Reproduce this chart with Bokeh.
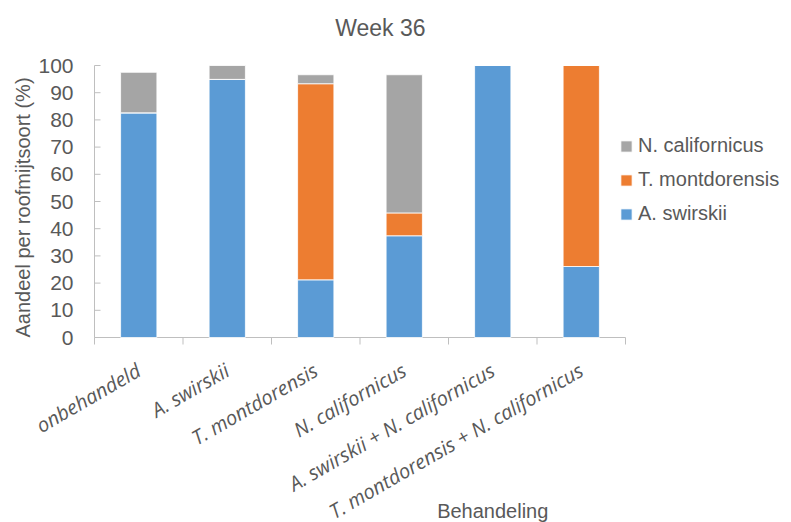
import numpy as np
from bokeh.plotting import figure
from bokeh.models import ColumnDataSource, Legend, LegendItem, Range1d
from bokeh.core.properties import value
from bokeh.embed import file_html
from bokeh.resources import INLINE

# Treatments (x categories)
categories = [
    "onbehandeld",
    "A. swirskii",
    "T. montdorensis",
    "N. californicus",
    "A. swirskii + N. californicus",
    "T. montdorensis + N. californicus",
]

# Share per predatory mite species (%), week 36
a_swirskii = [82.6, 94.9, 21.2, 37.4, 100.0, 26.1]
t_montdorensis = [0.0, 0.0, 72.1, 8.4, 0.0, 73.9]
n_californicus = [14.9, 5.1, 3.3, 50.8, 0.0, 0.0]

series_names = ["A. swirskii", "T. montdorensis", "N. californicus"]
series_keys = ["a_swirskii", "t_montdorensis", "n_californicus"]
series_colors = ["#5B9BD5", "#ED7D31", "#A5A5A5"]

y_ticks = [0, 10, 20, 30, 40, 50, 60, 70, 80, 90, 100]
y_tick_labels = [str(t) for t in y_ticks]

title_text = "Week 36"
x_title = "Behandeling"
y_title = "Aandeel per roofmijtsoort (%)"

TEXT = "#595959"
AXIS = "#BFBFBF"
SANS = "Liberation Sans"

# Canvas layout (pixels)
W, H = 791, 522
LEFT = 94            # pixel column of the value axis
ZERO_Y = 337         # pixel row of y = 0
PX_PER_Y = 2.72      # pixels per percent
PX_PER_CAT = 88.5    # pixels per treatment

n = len(categories)
centers = [i + 0.5 for i in range(n)]
bounds = [float(i) for i in range(n + 1)]

source = ColumnDataSource(dict(
    x=centers,
    a_swirskii=a_swirskii,
    t_montdorensis=t_montdorensis,
    n_californicus=n_californicus,
))

# The plotting frame covers the whole canvas; both axes are drawn in it.
p = figure(width=W, height=H, output_backend="svg", toolbar_location=None,
           x_range=Range1d(-LEFT / PX_PER_CAT, (W - LEFT) / PX_PER_CAT),
           y_range=Range1d(-(H - ZERO_Y) / PX_PER_Y, ZERO_Y / PX_PER_Y),
           min_border_left=0, min_border_right=0,
           min_border_top=0, min_border_bottom=0)
p.outline_line_color = None
p.grid.visible = False
p.axis.visible = False
p.background_fill_color = "white"
p.border_fill_color = "white"

tick_len_x = 6 / PX_PER_CAT
tick_len_y = 7 / PX_PER_Y

# Value axis: line, inward ticks, labels and title
p.segment(x0=[0], y0=[0], x1=[0], y1=[100], line_color=AXIS, line_width=1)
p.segment(x0=[0] * len(y_ticks), y0=y_ticks, x1=[tick_len_x] * len(y_ticks),
          y1=y_ticks, line_color=AXIS, line_width=1)
p.text(x=[0] * len(y_ticks), y=y_ticks, text=y_tick_labels, x_offset=-21,
       text_align="right", text_baseline="middle",
       text_font=value(SANS), text_font_size="21px", text_color=TEXT)
p.text(x=[0], y=[50], text=[y_title], angle=np.pi / 2, x_offset=-72,
       y_offset=6, text_align="center", text_baseline="middle",
       text_font=value(SANS), text_font_size="20px", text_color=TEXT)

# Category axis: baseline, boundary ticks, slanted labels and title
p.segment(x0=[0], y0=[0], x1=[n], y1=[0], line_color=AXIS, line_width=1)
p.segment(x0=bounds, y0=[0] * len(bounds), x1=bounds,
          y1=[-tick_len_y] * len(bounds), line_color=AXIS, line_width=1)
p.text(x=centers, y=[0] * n, text=categories, angle=np.pi / 6,
       y_offset=31, text_align="right", text_baseline="middle",
       text_font=value("Open Sans"), text_font_style="italic",
       text_font_size="20px", text_color=TEXT)
p.text(x=[4.5], y=[0], text=[x_title], y_offset=173,
       text_align="center", text_baseline="middle",
       text_font=value(SANS), text_font_size="20px", text_color=TEXT)

# Chart title
p.text(x=[3.23], y=[100], text=[title_text], y_offset=-38,
       text_align="center", text_baseline="middle",
       text_font=value(SANS), text_font_size="23px", text_color=TEXT)

renderers = p.vbar_stack(series_keys, x="x", width=0.41, source=source,
                         fill_color=series_colors, line_color="white",
                         line_width=0.8)

# Legend, top entry is the top of the stack
items = [LegendItem(label=series_names[i], renderers=[renderers[i]])
         for i in (2, 1, 0)]
legend = Legend(items=items, location=(619, 297), orientation="vertical",
                border_line_color=None, background_fill_alpha=0,
                padding=0, margin=0, spacing=11,
                glyph_width=14, glyph_height=14, label_height=21,
                label_standoff=5,
                label_text_font=SANS, label_text_font_size="20px",
                label_text_color=TEXT)
p.add_layout(legend)

open("out.html", "w").write(file_html(p, INLINE))
